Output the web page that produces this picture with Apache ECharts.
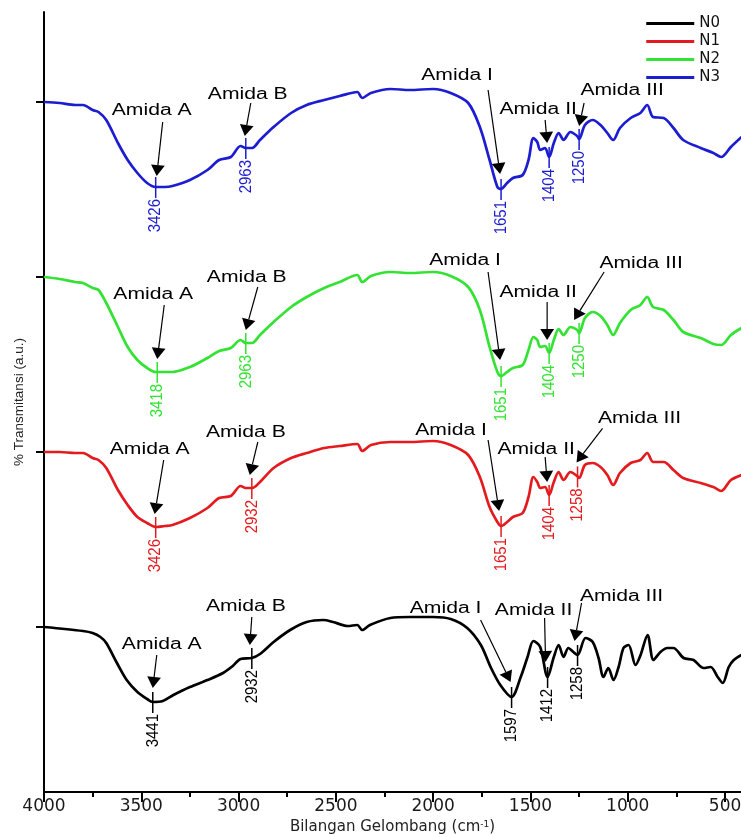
<!DOCTYPE html>
<html>
<head>
<meta charset="utf-8">
<script src="https://cdn.jsdelivr.net/npm/echarts@6/dist/echarts.min.js"></script>
<style>
html,body{margin:0;padding:0;background:#fff;}
#chart{width:741px;height:834px;}
</style>
</head>
<body>
<div id="chart"></div>
<script>
// ---------- DATA ----------
// Shared wavenumber grid (cm^-1) for N1, N2, N3
const W = [4000,3920,3840,3800,3750,3720,3680,3620,3570,3520,3470,3426,3380,3340,3250,3160,3100,3040,2990,2963,2930,2890,2820,2730,2650,2560,2480,2390,2365,2320,2220,2120,2000,1910,1820,1760,1710,1670,1651,1620,1590,1540,1510,1485,1465,1450,1425,1404,1380,1355,1330,1295,1260,1250,1220,1180,1140,1105,1075,1040,985,935,900,870,815,765,715,625,560,520,470,415];
// % Transmittance (a.u., stacked)
const N3 = [690,689,687,687,682,680,672,649,632,619,609,605,605,606,612,622,632,635,646,644,644,652,665,679,687,692,696,700,694,699,703,702,703,699,689,665,632,605,603,609,614,617,632,654,650,642,644,635,649,659,652,660,656,653,667,672,667,659,652,664,674,679,687,675,674,664,652,644,639,635,645,655];
const N2 = [515,513,510,509,504,502,489,465,445,432,424,420,420,420,425,434,441,444,452,449,449,457,470,485,495,504,510,517,510,516,520,519,520,516,505,482,445,420,416,420,424,427,442,455,452,445,446,439,452,463,457,465,462,459,474,480,476,467,457,469,482,487,495,485,482,472,460,454,448,447,457,464];
const N1 = [340,340,339,339,334,332,324,302,287,275,269,265,266,267,274,284,294,296,306,304,304,310,324,334,339,344,346,348,341,347,350,350,351,347,337,315,285,270,266,270,275,279,295,315,310,304,305,297,310,320,312,320,316,314,327,329,325,317,307,319,329,332,339,330,330,322,314,309,305,301,312,317];
// N0 has its own wavenumber grid
const W0 = [4000,3800,3750,3710,3680,3625,3575,3520,3470,3441,3390,3335,3250,3160,3080,3030,2990,2932,2890,2820,2735,2650,2565,2515,2440,2390,2365,2325,2220,2120,2000,1910,1825,1755,1705,1655,1597,1550,1515,1485,1450,1412,1380,1355,1330,1305,1280,1258,1217,1180,1150,1125,1100,1073,1047,1022,996,960,934,898,868,832,796,765,713,662,610,574,538,512,481,455,415];
const N0 = [165,161,159,155,149,129,112,100,93,90,91,97,105,112,119,126,133,134,138,150,162,170,172,170,166,167,162,167,174,175,175,173,164,147,125,107,95,115,135,151,145,115,135,147,135,144,140,137,154,150,134,115,124,112,125,144,147,127,137,157,132,140,144,144,134,132,124,125,115,109,125,132,137];

// Annotated peaks (cm^-1)
const peaksN0 = [3441,2932,1597,1412,1258];
const peaksN1 = [3426,2932,1651,1404,1258];
const peaksN2 = [3418,2963,1651,1404,1250];
const peaksN3 = [3426,2963,1651,1404,1250];
const bandNames = ['Amida A','Amida B','Amida I','Amida II','Amida III'];
const seriesNames = ['N0','N1','N2','N3'];

// Axis ticks
const xMajorTicks = [4000,3500,3000,2500,2000,1500,1000,500];
const xMinorTicks = [3750,3250,2750,2250,1750,1250,750];
const yBaselineTicks = [165,340,515,690];

// ---------- STYLE / LAYOUT ----------
const colors = {N0:'#000000', N1:'#e31b1f', N2:'#33e233', N3:'#1c1cd0'};
// offsets in px relative to the peak point: t = band text centre, a = arrow tail, h = arrow head tip
const annoLayout = {
  N3: [{t:[-4,-76],a:[7,-65],h:[1,-11]},{t:[2,-53],a:[5,-45],h:[-1,-12]},{t:[-44,-113],a:[-13,-99],h:[-1,-15]},{t:[-11,-47],a:[-4,-37],h:[-2,-14]},{t:[43,-48],a:[5,-36],h:[0,-13]}],
  N2: [{t:[-4,-77],a:[7,-67],h:[0,-13]},{t:[1,-65],a:[12,-56],h:[0,-13]},{t:[-36,-115],a:[-13,-104],h:[-1,-16]},{t:[-11,-60],a:[-2,-51],h:[-2,-13]},{t:[62,-69],a:[25,-61],h:[-5,-13]}],
  N1: [{t:[-6,-77],a:[8,-67],h:[-1,-13]},{t:[-6,-55],a:[6,-46],h:[-2,-13]},{t:[-50,-95],a:[-13,-86],h:[-2,-15]},{t:[-13,-45],a:[-4,-38],h:[-2,-13]},{t:[62,-58],a:[25,-48],h:[-1,-14]}],
  N0: [{t:[9,-57],a:[4,-47],h:[0,-14]},{t:[-6,-51],a:[0,-41],h:[-2,-13]},{t:[-66,-88],a:[-31,-77],h:[-1,-15]},{t:[-14,-66],a:[-3,-59],h:[-2,-15]},{t:[44,-58],a:[4,-52],h:[-3,-14]}]
};

function valueAt(ws, vs, w){
  for (let i=0;i<ws.length-1;i++){
    const a=ws[i], b=ws[i+1];
    if ((w<=a && w>=b)){
      const t = (a===b)?0:(a-w)/(a-b);
      return vs[i] + t*(vs[i+1]-vs[i]);
    }
  }
  return vs[vs.length-1];
}
function pairs(ws, vs){ return ws.map((w,i)=>[w, vs[i]]); }

const spectra = {
  N0:{w:W0, v:N0, peaks:peaksN0},
  N1:{w:W,  v:N1, peaks:peaksN1},
  N2:{w:W,  v:N2, peaks:peaksN2},
  N3:{w:W,  v:N3, peaks:peaksN3}
};

const lineSeries = seriesNames.map(n => ({
  name: n, type:'line', data: pairs(spectra[n].w, spectra[n].v),
  symbol:'none', showSymbol:false, smooth:0.3, color: colors[n],
  lineStyle:{width:2.7, color: colors[n]}, z:2
}));

const annoSeries = seriesNames.map(n => ({
  name: 'peaks-'+n, type:'custom', coordinateSystem:'cartesian2d', z:5, silent:true, clip:false,
  data: spectra[n].peaks.map((w,i)=>[w, valueAt(spectra[n].w, spectra[n].v, w), i]),
  renderItem: function(params, api){
    const w = api.value(0), v = api.value(1), i = api.value(2);
    const p = api.coord([w, v]);
    const px = p[0], py = p[1];
    const L = annoLayout[n][i];
    const col = colors[n];
    const tail = [px+L.a[0], py+L.a[1]];
    const tip = [px+L.h[0], py+L.h[1]];
    let dx = tip[0]-tail[0], dy = tip[1]-tail[1];
    const len = Math.sqrt(dx*dx+dy*dy) || 1; dx/=len; dy/=len;
    const hl = 11, hw = 6;
    const base = [tip[0]-dx*hl, tip[1]-dy*hl];
    const nx = -dy*1.15, ny = dx;
    return {
      type:'group',
      children:[
        {type:'line', shape:{x1:px, y1:py-10, x2:px, y2:py+11}, style:{stroke:col, lineWidth:1.5}},
        {type:'text', x:px, y:py+12, rotation:Math.PI/2, scaleX:1, scaleY:1.15,
          style:{text:String(w), fill:col, font:'15px "Liberation Sans", Arial, sans-serif', align:'right', verticalAlign:'middle'}},
        {type:'line', shape:{x1:tail[0], y1:tail[1], x2:base[0], y2:base[1]}, style:{stroke:'#000', lineWidth:1.2}},
        {type:'polygon', shape:{points:[tip,[base[0]+nx*hw, base[1]+ny*hw],[base[0]-nx*hw, base[1]-ny*hw]]}, style:{fill:'#000'}},
        {type:'text', x:px+L.t[0], y:py+L.t[1], scaleX:1.32, scaleY:1,
          style:{text:bandNames[i], fill:'#000', font:'16px "Liberation Sans", Arial, sans-serif', align:'center', verticalAlign:'middle'}}
      ]
    };
  }
}));

const chart = echarts.init(document.getElementById('chart'), null, {renderer:'canvas'});
chart.setOption({
  animation:false,
  backgroundColor:'#fff',
  grid:{left:44, right:0, top:12, bottom:42, containLabel:false, outerBoundsMode:'none'},
  legend:{
    data: seriesNames, orient:'vertical', right:16, top:11,
    icon:'rect', itemWidth:48, itemHeight:3, itemGap:3,
    textStyle:{fontFamily:'DejaVu Sans', fontSize:15, color:'#111', lineHeight:14.5},
    selectedMode:false
  },
  xAxis:[
    {
      type:'value', inverse:true, min:418, max:4000, position:'bottom',
      axisLine:{show:true, onZero:false, lineStyle:{color:'#000', width:2}},
      axisTick:{show:true, customValues:xMajorTicks, length:10, lineStyle:{color:'#000', width:2}},
      axisLabel:{show:true, customValues:xMajorTicks, margin:6, fontFamily:'DejaVu Sans', fontSize:17, color:'#1a1a1a',
        formatter: function(v){ return String(v); }},
      splitLine:{show:false},
      name:'Bilangan Gelombang (cm{sup|-1})', nameLocation:'middle', nameGap:27,
      nameTextStyle:{fontFamily:'DejaVu Sans', fontSize:15, color:'#222',
        rich:{sup:{fontFamily:'DejaVu Sans', fontSize:9, verticalAlign:'top', color:'#222'}}}
    },
    {
      type:'value', inverse:true, min:418, max:4000, position:'bottom',
      axisLine:{show:false, onZero:false},
      axisTick:{show:true, customValues:xMinorTicks, length:5, lineStyle:{color:'#000', width:2}},
      axisLabel:{show:false},
      splitLine:{show:false}
    }
  ],
  yAxis:{
    type:'value', min:0, max:780,
    axisLine:{show:true, onZero:false, lineStyle:{color:'#000', width:2}},
    axisTick:{show:true, customValues:yBaselineTicks, length:8, lineStyle:{color:'#000', width:2}},
    axisLabel:{show:false},
    splitLine:{show:false},
    name:'% Transmitansi (a.u.)', nameLocation:'middle', nameGap:18,
    nameTextStyle:{fontFamily:'Liberation Sans', fontSize:13.5, color:'#222'}
  },
  series: lineSeries.concat(annoSeries)
});
</script>
</body>
</html>
